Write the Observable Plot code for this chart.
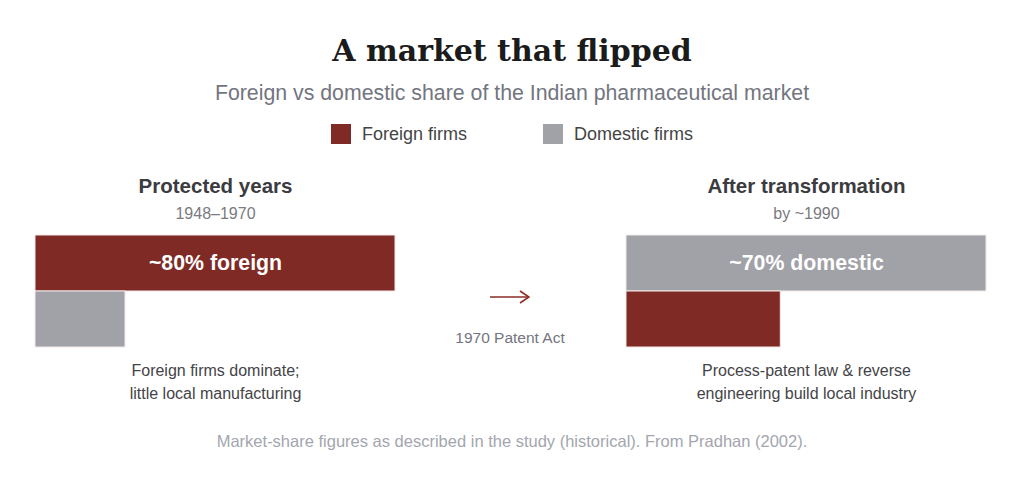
<!DOCTYPE html>
<html>
<head>
<meta charset="utf-8">
<script src="https://cdn.jsdelivr.net/npm/d3@7"></script>
<script src="https://cdn.jsdelivr.net/npm/@observablehq/plot@0.6"></script>
<style>
  body { margin: 0; background: #fff; }
  #root { position: relative; width: 1024px; height: 488px; font-family: "Liberation Sans", Arial, sans-serif; overflow: hidden; }
  .abs { position: absolute; left: 0; width: 1024px; text-align: center; white-space: nowrap; }
  #title { top: 31px; font-family: "DejaVu Serif", serif; font-weight: bold; font-size: 30px; line-height: 40px; color: #1b1b1b; }
  #subtitle { top: 81px; font-size: 21.3px; line-height: 24px; color: #737580; }
  #legend { top: 124px; height: 20px; display: flex; justify-content: center; gap: 76px; font-size: 18px; color: #444; }
  .item { display: flex; align-items: center; gap: 11px; }
  .sw { width: 20px; height: 20px; display: inline-block; }
  #chart { top: 165px; }
  #arrow { top: 287px; left: 490px; width: 40px; height: 20px; position: absolute; }
  #act { top: 329px; left: 410px; width: 200px; font-size: 15.5px; line-height: 18px; color: #737580; }
  #caption { top: 432px; font-size: 16.5px; line-height: 18px; color: #a3a6ae; }
</style>
</head>
<body>
<div id="root">
  <div id="title" class="abs"></div>
  <div id="subtitle" class="abs"></div>
  <div id="legend" class="abs"></div>
  <div id="chart" class="abs"></div>
  <svg id="arrow" viewBox="0 0 40 20"><line x1="0" y1="10" x2="38" y2="10" stroke="#8b2e28" stroke-width="1.6"/><polyline points="30,4 39,10 30,16" fill="none" stroke="#8b2e28" stroke-width="1.6"/></svg>
  <div id="act" class="abs"></div>
  <div id="caption" class="abs"></div>
</div>
<script>
const titleText = "A market that flipped";
const subtitleText = "Foreign vs domestic share of the Indian pharmaceutical market";
const captionText = "Market-share figures as described in the study (historical). From Pradhan (2002).";
const transitionText = "1970 Patent Act";

const groups = ["Foreign firms", "Domestic firms"];
const groupColors = ["#802a25", "#a1a1a8"];

const panels = ["Protected years", "After transformation"];
const periods = ["1948–1970", "by ~1990"];
const foreignShare = [80, 30];
const domesticShare = [20, 70];
const barLabels = ["~80% foreign", "~70% domestic"];
const notes = [
  "Foreign firms dominate;\nlittle local manufacturing",
  "Process-patent law & reverse\nengineering build local industry"
];

document.getElementById("title").textContent = titleText;
document.getElementById("subtitle").textContent = subtitleText;
document.getElementById("caption").textContent = captionText;
document.getElementById("act").textContent = transitionText;

const legend = document.getElementById("legend");
groups.forEach((g, i) => {
  const item = document.createElement("div");
  item.className = "item";
  const sw = document.createElement("span");
  sw.className = "sw";
  sw.style.background = groupColors[i];
  const t = document.createElement("span");
  t.textContent = g;
  item.append(sw, t);
  legend.append(item);
});

// Build bar table: dominant group on the top row
const bars = [];
panels.forEach((p, i) => {
  const entries = [
    {panel: p, group: groups[0], share: foreignShare[i]},
    {panel: p, group: groups[1], share: domesticShare[i]}
  ].sort((a, b) => b.share - a.share);
  entries[0].row = "top";
  entries[1].row = "bottom";
  bars.push(...entries);
});
const panelTable = panels.map((p, i) => ({panel: p, period: periods[i], label: barLabels[i], note: notes[i]}));

const chart = Plot.plot({
  width: 1024,
  height: 245,
  marginLeft: 35,
  marginRight: 38,
  marginTop: 70,
  marginBottom: 63,
  style: {fontFamily: "'Liberation Sans', Arial, sans-serif", background: "transparent"},
  fx: {domain: panels, paddingInner: 0.391, paddingOuter: 0, axis: null, label: null},
  x: {domain: [0, 1], axis: null},
  y: {domain: ["top", "bottom"], paddingInner: 0, paddingOuter: 0, axis: null},
  color: {domain: groups, range: groupColors},
  marks: [
    Plot.barX(bars, Plot.normalizeX("max", {
      x: "share", y: "row", fx: "panel", fill: "group", z: null,
      stroke: "#f3e9e8", strokeWidth: 1, insetTop: 0, insetBottom: 0
    })),
    Plot.text(panelTable, {fx: "panel", text: "panel", frameAnchor: "top", lineAnchor: "middle", dy: -49, fontSize: 20.5, fontWeight: "bold", fill: "#3b3b40"}),
    Plot.text(panelTable, {fx: "panel", text: "period", frameAnchor: "top", lineAnchor: "middle", dy: -22, fontSize: 16, fill: "#7a7a7f"}),
    Plot.text(panelTable, {fx: "panel", y: () => "top", text: "label", fontSize: 21.3, fontWeight: "bold", fill: "white"}),
    Plot.text(panelTable, {fx: "panel", text: "note", frameAnchor: "bottom", dy: 33, lineAnchor: "middle", lineHeight: 1.44, fontSize: 16, fill: "#444448"})
  ]
});
document.getElementById("chart").append(chart);
</script>
</body>
</html>
